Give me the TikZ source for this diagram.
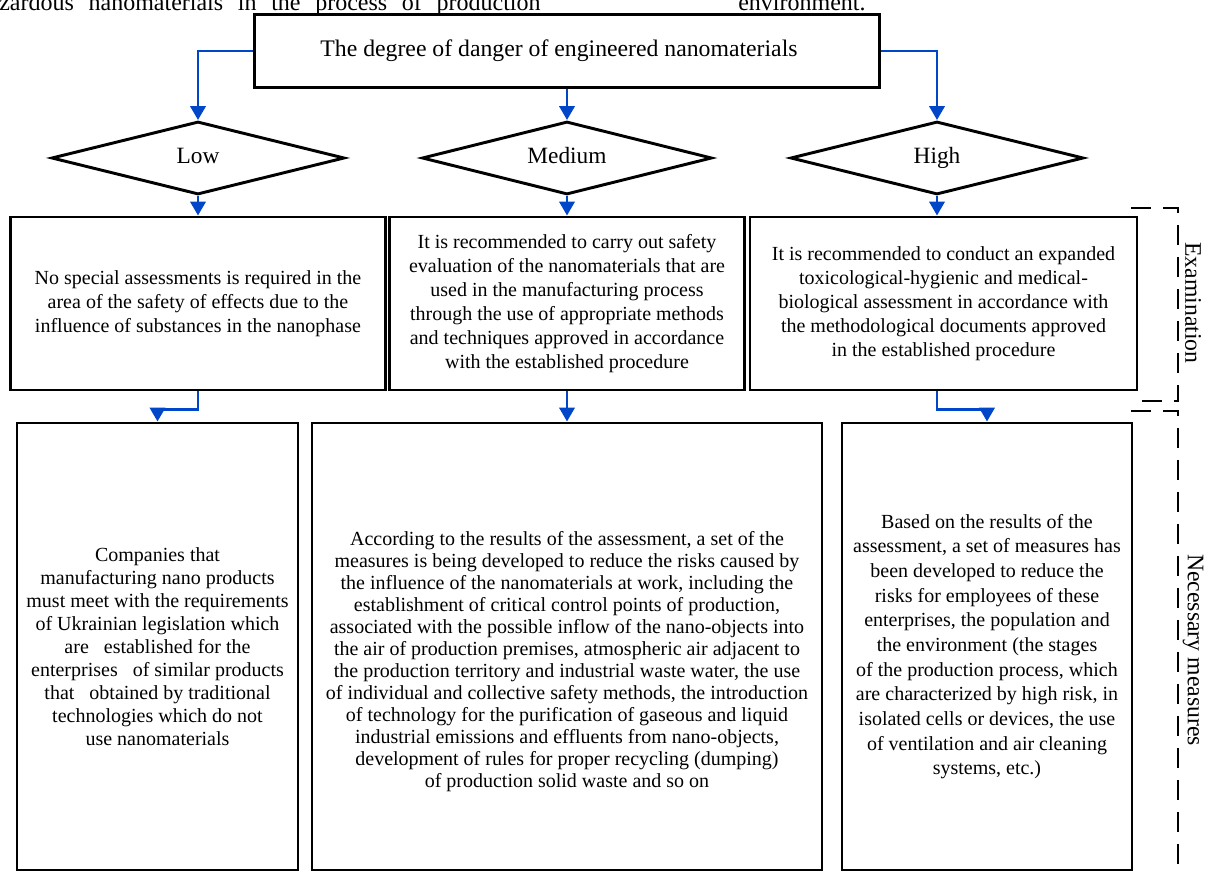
\documentclass[tikz,border=0pt]{standalone}
\usepackage{fontspec}
\setmainfont{Liberation Serif}
\usetikzlibrary{shapes.geometric,arrows.meta}
\definecolor{flowblue}{RGB}{0,70,200}

\begin{document}
\begin{tikzpicture}[x=0.75pt,y=-0.75pt,
  box/.style={draw,line width=2.2pt,inner sep=0pt,align=center,
    font=\fontsize{15}{18}\selectfont},
  level/.style={draw,diamond,aspect=4,line width=2.2pt,inner sep=0pt,
    minimum width=293*0.75pt,minimum height=73*0.75pt,text height=12pt,text depth=3.5pt,
    font=\fontsize{17.5}{21}\selectfont},
  flow/.style={flowblue,line width=2.2pt,-{Triangle[length=10.5pt,width=11.5pt]}},
  bracket/.style={line width=1.5pt,dash pattern=on 15pt off 9pt},
  side/.style={rotate=-90,inner sep=0pt,font=\fontsize{17.8}{20}\selectfont}]
  \useasboundingbox (0,0) rectangle (1208,873);

  % line of the page cut by the top edge
  \node[anchor=base west,inner sep=0pt,font=\fontsize{18}{21}\selectfont] (pagetext) at (-1,11)
    {\makebox[406pt][s]{zardous nanomaterials in the process of production}};
  \node[anchor=base west,inner sep=0pt,font=\fontsize{18}{21}\selectfont] (pagetext end) at (738,11) {environment.};

  \node[box,font=\fontsize{17.8}{21}\selectfont,minimum width=625*0.75pt,minimum height=73*0.75pt] (degree) at (567,51)
    {The degree of danger of engineered nanomaterials\hspace*{12pt}};

  \node[level] (low) at (198,158) {Low};
  \node[level,minimum width=290*0.75pt] (medium) at (567,158) {Medium};
  \node[level] (high) at (937,158) {High};

  % examination
  \node[box,minimum width=375*0.75pt,minimum height=173*0.75pt] (exam low) at (198,303.5)
    {No special assessments is required in the\\area of the safety of effects due to the\\influence of substances in the nanophase};
  \node[box,minimum width=355*0.75pt,minimum height=173*0.75pt] (exam medium) at (567,303.5)
    {It is recommended to carry out safety\\evaluation of the nanomaterials that are\\used in the manufacturing process\\through the use of appropriate methods\\and techniques approved in accordance\\with the established procedure};
  \node[box,minimum width=387*0.75pt,minimum height=173*0.75pt] (exam high) at (943.5,303.5)
    {It is recommended to conduct an expanded\\toxicological-hygienic and medical-\\biological assessment in accordance with\\the methodological documents approved\\in the established procedure};

  % necessary measures
  \node[box,font=\fontsize{15}{17.3}\selectfont,minimum width=281*0.75pt,minimum height=447*0.75pt] (measures low) at (157.5,646.5)
    {Companies that\\manufacturing nano products\\must meet with the requirements\\of Ukrainian legislation which\\are\ \ \ established for the\\enterprises\ \ \ of similar products\\that\ \ \ obtained by traditional\\technologies which do not\\use nanomaterials};
  \node[box,font=\fontsize{15}{16.5}\selectfont,minimum width=510*0.75pt,minimum height=447*0.75pt] (measures medium) at (567,646.5)
    {\rule{0pt}{33pt}According to the results of the assessment, a set of the\\measures is being developed to reduce the risks caused by\\the influence of the nanomaterials at work, including the\\establishment of critical control points of production,\\associated with the possible inflow of the nano-objects into\\the air of production premises, atmospheric air adjacent to\\the production territory and industrial waste water, the use\\of individual and collective safety methods, the introduction\\of technology for the purification of gaseous and liquid\\industrial emissions and effluents from nano-objects,\\development of rules for proper recycling (dumping)\\of production solid waste and so on};
  \node[box,font=\fontsize{15}{18.5}\selectfont,minimum width=290*0.75pt,minimum height=447*0.75pt] (measures high) at (987,646.5)
    {Based on the results of the\\assessment, a set of measures has\\been developed to reduce the\\risks for employees of these\\enterprises, the population and\\the environment (the stages\\of the production process, which\\are characterized by high risk, in\\isolated cells or devices, the use\\of ventilation and air cleaning\\systems, etc.)};

  \draw[flow] (degree.west) -| (low.north);
  \draw[flow] (degree.south) -- (medium.north);
  \draw[flow] (degree.east) -| (high.north);

  \draw[flow] (low.south) -- (exam low.north);
  \draw[flow] (medium.south) -- (exam medium.north);
  \draw[flow] (high.south) -- (high.south |- exam high.north);

  \draw[flow] (exam low.south) -- ++(0,18) -| (measures low.north);
  \draw[flow] (exam medium.south) -- (measures medium.north);
  \draw[flow] (exam high.south -| high.south) -- ++(0,18) -| (measures high.north);

  % brackets on the right
  \draw[bracket] (1131,208) -- (1178,208) -- (1178,401) -- (1131,401);
  \draw[bracket] (1131,411) -- (1178,411) -- (1178,880);
  \node[side] (examination) at (1193,303) {Examination};
  \node[side] (necessary) at (1193,650) {Necessary measures};
\end{tikzpicture}
\end{document}
